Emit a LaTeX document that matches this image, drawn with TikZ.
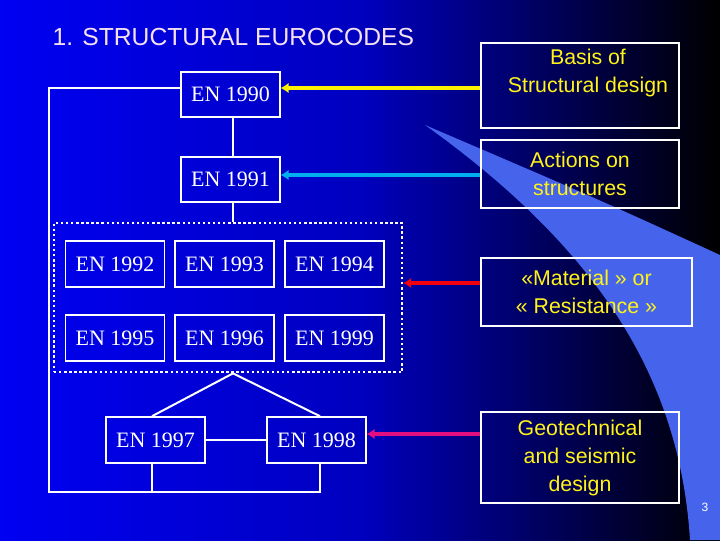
\documentclass[tikz,border=0pt]{standalone}
\usepackage{fontspec}
\setmainfont{Liberation Serif}
\newfontfamily\arial{Liberation Sans}
\usetikzlibrary{arrows.meta}
\definecolor{swoosh}{RGB}{70,100,235}
\definecolor{ttl}{RGB}{245,225,240}
\begin{document}
\begin{tikzpicture}[x=0.75pt,y=-0.75pt,
  en/.style={draw=white,line width=1.2pt,fill=none,text=white,font=\fontsize{16.5}{18}\selectfont,inner sep=0pt},
  rb/.style={draw=white,line width=1.2pt,text=yellow!90!white,font=\arial\fontsize{16}{21}\selectfont,align=center,inner sep=0pt},
  rt/.style={text=yellow!90!white,font=\arial\fontsize{16}{21}\selectfont,align=center,inner sep=0pt},
  wl/.style={white,line width=1.5pt},
  ar/.style={line width=3pt,-{Latex[length=6pt,width=8pt]}}]
\shade[left color=blue!95!black,right color=black,middle color=blue!75!black] (0,0) rectangle (720,540);
\fill[swoosh] (425,125) .. controls (600,250) and (680,380) .. (690,540) -- (720,540) -- (720,255) .. controls (600,200) .. (425,125);
\useasboundingbox (0,0) rectangle (720,540);
\node[anchor=west,text=ttl,font=\arial\fontsize{18.5}{20}\selectfont] (t) at (48,37) {1. STRUCTURAL EUROCODES};
\node[anchor=center,text=white,font=\arial\fontsize{9}{10}\selectfont] (p) at (705,507) {3};
\node[en,minimum width=74pt,minimum height=34pt] (a) at (230.5,94.5) {EN 1990};
\node[en,minimum width=74pt,minimum height=34pt] (b) at (230.5,179.5) {EN 1991};
\node[draw=white,dotted,line width=1.8pt,minimum width=261pt,minimum height=112pt] (d) at (228,297.5) {};
\foreach \n/\x/\y in {1992/115/264,1993/224.5/264,1994/334.5/264,1995/115/338,1996/224.5/338,1999/334.5/338}
  \node[en,minimum width=74pt,minimum height=34.5pt] (e\n) at (\x,\y) {EN \n};
\node[en,minimum width=74pt,minimum height=34.5pt] (e1997) at (155.5,440) {EN 1997};
\node[en,minimum width=74pt,minimum height=34.5pt] (e1998) at (316.5,440) {EN 1998};
\node[rb,minimum width=148.5pt,minimum height=64pt] (r1) at (580,85.5) {};
\node[rt] (r1t) at (588,73) {Basis of\\Structural design};
\node[rb,minimum width=148.5pt,minimum height=51pt] (r2) at (580,174) {Actions on\\structures};
\node[rb,minimum width=158pt,minimum height=51pt] (r3) at (586.5,292) {«Material » or\\« Resistance »};
\node[rb,minimum width=148.5pt,minimum height=68pt] (r4) at (580,457.5) {Geotechnical\\and seismic\\design};
\coordinate (top) at (233,0);
\draw[wl] (top |- a.south) -- (top |- b.north);
\draw[wl] (top |- b.south) -- (top |- d.north);
\coordinate (c1) at (49,88); \coordinate (c2) at (49,492); \coordinate (c3) at (152,492); \coordinate (c4) at (320,492);
\draw[wl] (a.west |- c1) -- (c1) -- (c2) -- (c4) -- (c4 |- e1998.south);
\draw[wl] (c3) -- (c3 |- e1997.south);
\draw[wl] (top |- d.south) -- (c3 |- e1997.north);
\draw[wl] (top |- d.south) -- (c4 |- e1998.north);
\draw[wl] (e1997.east) -- (e1998.west);
\draw[ar,yellow] (r1.west |- 0,88) -- (a.east |- 0,88);
\draw[ar,cyan] (r2.west |- 0,175) -- (b.east |- 0,175);
\draw[ar,red!80!purple] (r3.west |- 0,283) -- (d.east |- 0,283);
\draw[ar,magenta!80!purple] (r4.west |- 0,434) -- (e1998.east |- 0,434);
\end{tikzpicture}
\end{document}
